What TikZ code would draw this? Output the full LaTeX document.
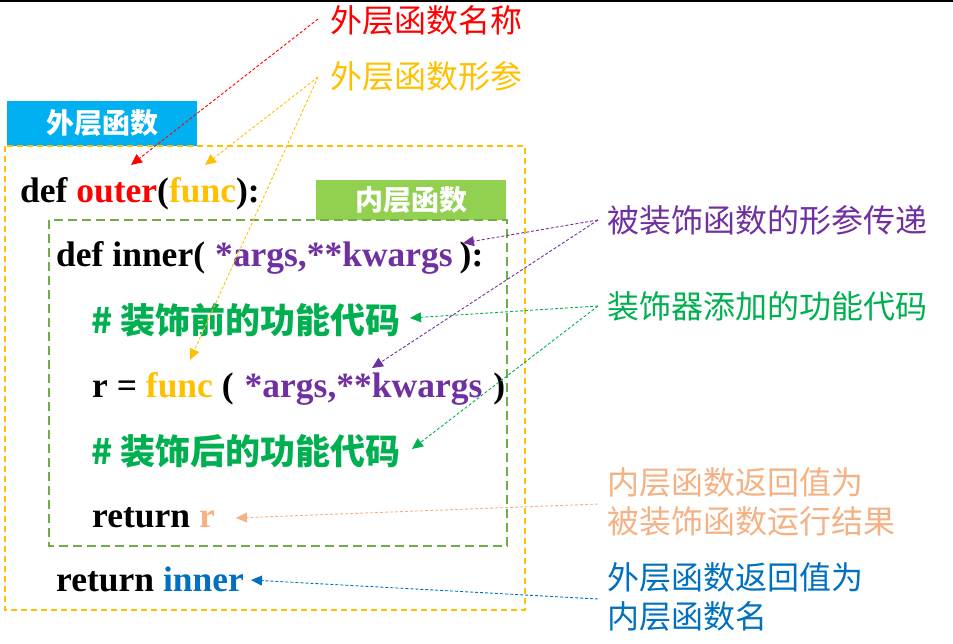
\documentclass[tikz,border=0pt]{standalone}
\usepackage{fontspec}
\setmainfont{Liberation Serif}
\newfontfamily\cjk{Noto Sans CJK SC}
\usetikzlibrary{arrows.meta}
\definecolor{cRed}{HTML}{FF0000}
\definecolor{cYel}{HTML}{FFC000}
\definecolor{cPur}{HTML}{7030A0}
\definecolor{cGrn}{HTML}{00B050}
\definecolor{cSal}{HTML}{F4B183}
\definecolor{cBlu}{HTML}{0070C0}
\definecolor{cSky}{HTML}{00B0F0}
\definecolor{cLime}{HTML}{92D050}
\definecolor{cFrame}{HTML}{70AD47}
\begin{document}
\begin{tikzpicture}[x=1pt,y=-1pt,
  code/.style={anchor=base west, inner sep=0pt, font=\fontsize{35.5}{40}\selectfont\bfseries},
  cmt/.style={anchor=west, inner sep=0pt, text=cGrn, font=\cjk\bfseries\fontsize{35}{40}\selectfont},
  lbl/.style={anchor=west, inner sep=0pt, align=left, font=\cjk\fontsize{32}{38.5}\selectfont},
  tag/.style={inner sep=0pt, text=white, font=\cjk\bfseries\fontsize{28}{32}\selectfont},
  ptr/.style={dash pattern=on 3pt off 2pt, line width=0.9pt, -{Triangle[length=11pt,width=10pt]}}
]
\useasboundingbox (0,0) rectangle (953,643);
\draw[line width=1.5pt] (0,1) -- (953,1);
% tags and frames
\node[tag, fill=cSky, minimum width=190pt, minimum height=45pt] (outertag) at (102,123.5) {外层函数};
\node[tag, fill=cLime, minimum width=190pt, minimum height=40pt] (innertag) at (411,200) {内层函数};
\draw[cYel, line width=1.8pt, dash pattern=on 6pt off 4pt] (5,146) rectangle (525,610);
\draw[cFrame, line width=1.8pt, dash pattern=on 9pt off 5pt] (49,220) rectangle (507,546);
% code
\node[code] (l1) at (20,202) {def \textcolor{cRed}{outer}(\textcolor{cYel}{func}):};
\node[code] (l2) at (56,266) {def inner(\hspace{10pt}\textcolor{cPur}{*args,**kwargs}\hspace{7pt}):};
\node[cmt] (l3) at (91,320) {\# 装饰前的功能代码};
\node[code] (l4) at (92,397) {r = \textcolor{cYel}{func} (\hspace{11pt}\textcolor{cPur}{*args,**kwargs}\hspace{11pt})};
\node[cmt] (l5) at (91,451) {\# 装饰后的功能代码};
\node[code] (l6) at (92,527) {return \textcolor{cSal}{r}};
\node[code] (l7) at (56,591) {return \textcolor{cBlu}{inner}};
% labels
\node[lbl, text=cRed] (n1) at (330,20) {外层函数名称};
\node[lbl, text=cYel] (n2) at (330,76) {外层函数形参};
\node[lbl, text=cPur] (n3) at (607,220) {被装饰函数的形参传递};
\node[lbl, text=cGrn] (n4) at (607,306) {装饰器添加的功能代码};
\node[lbl, text=cSal] (n5) at (607,502) {内层函数返回值为\\被装饰函数运行结果};
\node[lbl, text=cBlu] (n6) at (607,597) {外层函数返回值为\\内层函数名};
% connector ends
\coordinate (s1) at (318,19);
\coordinate (s2) at (318,77);
\coordinate (s3) at (598,220);
\coordinate (s4) at (598,306);
\coordinate (s5) at (598,504);
\coordinate (s6) at (598,599);
\coordinate (t1) at (131,165);
\coordinate (t2) at (205,165);
\coordinate (t3) at (190,360);
\coordinate (t4) at (463,243);
\coordinate (t5) at (372,368);
\coordinate (t6) at (410,318);
\coordinate (t7) at (412,449);
\coordinate (t8) at (236,518);
\coordinate (t9) at (251,580);
\draw[ptr, cRed] (s1) -- (t1);
\draw[ptr, cYel] (s2) -- (t2);
\draw[ptr, cYel] (s2) -- (t3);
\draw[ptr, cPur] (s3) -- (t4);
\draw[ptr, cPur] (s3) -- (t5);
\draw[ptr, cGrn] (s4) -- (t6);
\draw[ptr, cGrn] (s4) -- (t7);
\draw[ptr, cSal] (s5) -- (t8);
\draw[ptr, cBlu] (s6) -- (t9);
\end{tikzpicture}
\end{document}
